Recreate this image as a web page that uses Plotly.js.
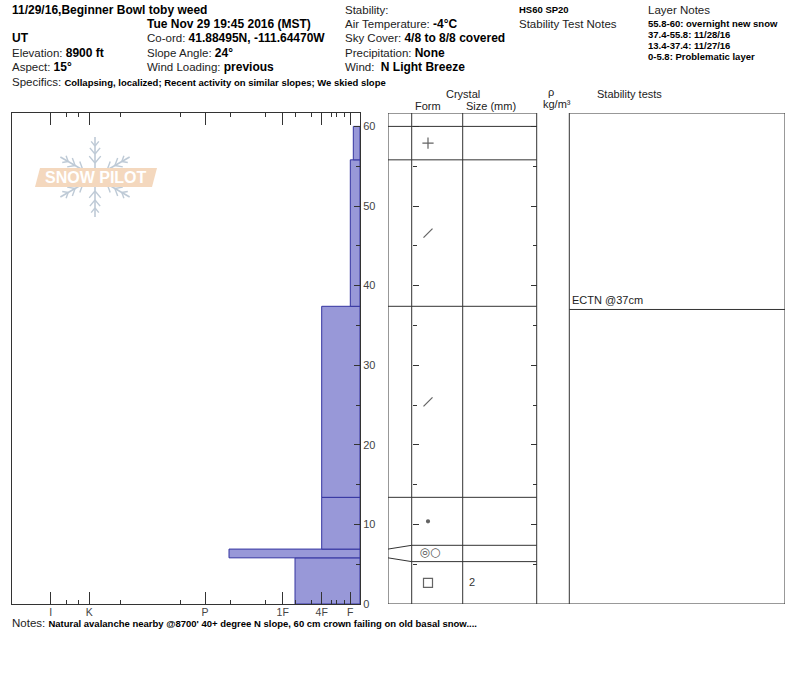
<!DOCTYPE html>
<html><head><meta charset="utf-8">
<script src="https://cdn.plot.ly/plotly-3.0.1.min.js"></script>
<style>html,body{margin:0;padding:0;background:#fff}</style>
</head><body><div id="chart" style="width:800px;height:676px"></div>
<script>
// ---------------- data ----------------
const hardnessLabels = ['I', 'K', 'P', '1F', '4F', 'F'];
const hardnessPos = [309.3, 270.7, 155, 77.3, 38.3, 9.7];
const hardnessMinor = [293.3, 281.7, 240, 180, 130, 95, 65, 48.3, 29, 23.3, 16];

const layerBottom = [0, 5.8, 6.9, 13.4, 37.4, 55.8];
const layerTop = [5.8, 6.9, 13.4, 37.4, 55.8, 60];
const layerHardness = [65, 131, 38.3, 38.3, 9.7, 6.7];
const layerForm = ['FC', 'MFcr', 'RG', 'DF', 'DF', 'PP'];
const layerSize = ['2', '', '', '', '', ''];

const layerNoteRanges = ['55.8-60', '37.4-55.8', '13.4-37.4', '0-5.8'];
const layerNoteTexts = ['overnight new snow', '11/28/16', '11/27/16', 'Problematic layer'];

const stabilityTests = ['ECTN @37cm'];
const stabilityDepths = [37];

// ---------------- geometry ----------------
const W = 800, H = 676;
const px = x => x / W, py = y => 1 - y / H;
const FONT = '"Liberation Sans", Arial, Helvetica, sans-serif';
const plotT = 113, plotB = 604;
const cmPx = 7.96;
const yMax = (plotB - plotT) / cmPx;
const colX = [388, 411.7, 462.7, 536.7, 569.3, 785];
const formX = 428, sizeX = 472;
const LINE = '#333';

// display positions in the crystal table (thin layers widened)
const minH = 2.05;
const n = layerBottom.length;
const dispB = layerBottom.slice(), dispT = layerTop.slice();
for (let i = 0; i < n; i++) {
  const b = layerBottom[i], t = layerTop[i];
  if (t - b < minH) {
    const m = (b + t) / 2;
    dispB[i] = m - minH / 2; dispT[i] = m + minH / 2;
    if (i > 0) dispT[i - 1] = dispB[i];
    if (i < n - 1) dispB[i + 1] = dispT[i];
  }
}
const mids = layerBottom.map((b, i) => (b + layerTop[i]) / 2);
const thick = layerBottom.map((b, i) => layerTop[i] - b);
const dispMids = dispB.map((b, i) => (b + dispT[i]) / 2);

const symbolFor = { PP: 'cross-thin', DF: 'line-ne', RG: 'circle', FC: 'square-open' };
const sizeFor = { PP: 8, DF: 9, RG: 3, FC: 9 };
const mIdx = layerForm.map((f, i) => i).filter(i => symbolFor[layerForm[i]]);
const tIdx = layerForm.map((f, i) => i).filter(i => !symbolFor[layerForm[i]]);

const traces = [
  { type: 'bar', orientation: 'h', x: layerHardness, y: mids, width: thick,
    marker: { color: 'rgb(152,152,216)', line: { color: 'rgb(52,52,160)', width: 1 } },
    hoverinfo: 'skip', xaxis: 'x', yaxis: 'y' },
  { type: 'scatter', mode: 'markers', xaxis: 'x2', yaxis: 'y',
    x: mIdx.map(() => formX), y: mIdx.map(i => dispMids[i]),
    marker: { symbol: mIdx.map(i => symbolFor[layerForm[i]]), size: mIdx.map(i => sizeFor[layerForm[i]]),
      color: '#222', line: { color: '#222', width: 1.2 } }, hoverinfo: 'skip' },
  { type: 'scatter', mode: 'text', xaxis: 'x2', yaxis: 'y',
    x: tIdx.map(() => formX + 2), y: tIdx.map(i => dispMids[i]),
    text: tIdx.map(() => '◎○'), textfont: { family: 'DejaVu Sans', size: 12, color: '#555' }, hoverinfo: 'skip' },
  { type: 'scatter', mode: 'text', xaxis: 'x2', yaxis: 'y',
    x: layerSize.map(() => sizeX), y: dispMids, text: layerSize,
    textfont: { family: FONT, size: 11, color: '#333' }, hoverinfo: 'skip' },
  { type: 'scatter', mode: 'markers', x: [null], y: [null], xaxis: 'x', yaxis: 'y3', hoverinfo: 'skip' },
  { type: 'scatter', mode: 'markers', x: [null], y: [null], xaxis: 'x', yaxis: 'y4', hoverinfo: 'skip' }
];

// ---------------- shapes ----------------
const shapes = [];
// watermark snowflake (decoration)
const cx = 95, cy = 177, R = 40, FLAKE = 'rgb(190,202,214)';
[90, 30, 150, 210, 270, 330].forEach(a => {
  const r = a * Math.PI / 180;
  const ux = Math.cos(r), uy = -Math.sin(r);
  shapes.push({ type: 'line', xref: 'paper', yref: 'paper', layer: 'below',
    x0: px(cx), y0: py(cy), x1: px(cx + R * ux), y1: py(cy + R * uy), line: { color: FLAKE, width: 1.6 } });
  [[14, 9], [23, 8], [31, 6]].forEach(([d, l]) => {
    [-40, 40].forEach(s => {
      const rr = (a + s) * Math.PI / 180;
      const bx = cx + d * ux, by = cy + d * uy;
      shapes.push({ type: 'line', xref: 'paper', yref: 'paper', layer: 'below',
        x0: px(bx), y0: py(by), x1: px(bx + l * Math.cos(rr)), y1: py(by - l * Math.sin(rr)), line: { color: FLAKE, width: 1.4 } });
    });
  });
});
// watermark band
shapes.push({ type: 'path', xref: 'paper', yref: 'paper', layer: 'below',
  path: `M ${px(40)},${py(168)} L ${px(157)},${py(168)} L ${px(152)},${py(187)} L ${px(35)},${py(187)} Z`,
  fillcolor: 'rgb(244,216,190)', line: { width: 0 } });
// vertical table lines
colX.forEach(x => shapes.push({ type: 'line', xref: 'x2', yref: 'y', x0: x, x1: x, y0: 0, y1: yMax, line: { color: LINE, width: 1 } }));
// top & bottom
shapes.push({ type: 'line', xref: 'x2', yref: 'y', x0: colX[0], x1: colX[3], y0: yMax, y1: yMax, line: { color: LINE, width: 1 } });
shapes.push({ type: 'line', xref: 'x2', yref: 'y', x0: colX[4], x1: colX[5], y0: yMax, y1: yMax, line: { color: LINE, width: 1 } });
shapes.push({ type: 'line', xref: 'x2', yref: 'y', x0: colX[0], x1: colX[5], y0: 0, y1: 0, line: { color: LINE, width: 1 } });
// layer boundaries
for (let i = 0; i < n; i++) {
  const b = layerTop[i], d = dispT[i];
  shapes.push({ type: 'path', xref: 'x2', yref: 'y',
    path: `M ${colX[0]},${b} L ${colX[1]},${d} L ${colX[3]},${d}`, line: { color: LINE, width: 1 } });
}
// stability test lines
stabilityDepths.forEach(d => shapes.push({ type: 'line', xref: 'x2', yref: 'y', x0: colX[4], x1: colX[5], y0: d, y1: d, line: { color: LINE, width: 1 } }));

// ---------------- annotations ----------------
const annotations = [];
function ann(x, y, text, size, extra) {
  annotations.push(Object.assign({ xref: 'paper', yref: 'paper', x: px(x - 2), y: py(y), text: text, showarrow: false,
    xanchor: 'left', yanchor: 'middle', font: { family: FONT, size: size || 11.5, color: '#222' } }, extra || {}));
}
const B = s => '<b style="color:#000;font-size:12px">' + s + '</b>';
const Bs = (s, fs) => '<b style="color:#000;font-size:' + fs + 'px">' + s + '</b>';
ann(12, 10, B('11/29/16,Beginner Bowl toby weed'));
ann(147, 24, B('Tue Nov 29 19:45 2016 (MST)'));
ann(12, 38, B('UT'));
ann(12, 53, 'Elevation: ' + B('8900 ft'));
ann(12, 67, 'Aspect: ' + B('15°'));
ann(12, 82, 'Specifics: ' + Bs('Collapsing, localized; Recent activity on similar slopes; We skied slope', 9.5));
ann(147, 38, 'Co-ord: ' + B('41.88495N, -111.64470W'));
ann(147, 53, 'Slope Angle: ' + B('24°'));
ann(147, 67, 'Wind Loading: ' + B('previous'));
ann(345, 10, 'Stability:');
ann(345, 24, 'Air Temperature: ' + B('-4°C'));
ann(345, 38, 'Sky Cover: ' + B('4/8 to 8/8 covered'));
ann(345, 53, 'Precipitation: ' + B('None'));
ann(345, 67, 'Wind:  ' + B('N Light Breeze'));
ann(519, 10, Bs('HS60 SP20', 9.5));
ann(519, 24, 'Stability Test Notes');
ann(648, 10, 'Layer Notes');
layerNoteRanges.forEach((r, i) => ann(648, 24 + i * 10.7, Bs(r + ': ' + layerNoteTexts[i], 9.5)));
ann(12, 623, 'Notes: ' + Bs("Natural avalanche nearby @8700' 40+ degree N slope, 60 cm crown failing on old basal snow....", 9.5));
// table headers
ann(465, 94, 'Crystal', 11, { xanchor: 'center' });
ann(430, 106, 'Form', 11, { xanchor: 'center' });
ann(493, 106, 'Size (mm)', 11, { xanchor: 'center' });
ann(553, 92, 'ρ', 11, { xanchor: 'center' });
ann(559, 104, 'kg/m³', 11, { xanchor: 'center' });
ann(631, 94, 'Stability tests', 11, { xanchor: 'center' });
// stability tests
stabilityTests.forEach((t, i) => annotations.push({ xref: 'x2', yref: 'y', x: colX[4] + 1, y: stabilityDepths[i], text: t,
  showarrow: false, xanchor: 'left', yanchor: 'bottom', yshift: 1, font: { family: FONT, size: 11, color: '#222' } }));
// watermark text
ann(98, 177.5, '<b>SNOW PILOT</b>', 16, { xanchor: 'center', font: { family: FONT, size: 16, color: '#ffffff' } });

const layout = {
  width: W, height: H, autosize: false, margin: { l: 0, r: 0, t: 0, b: 0 },
  paper_bgcolor: '#ffffff', plot_bgcolor: 'rgba(0,0,0,0)', showlegend: false,
  font: { family: FONT, size: 11, color: '#333' },
  xaxis: { domain: [px(12), px(360)], range: [348, 0], tickmode: 'array', tickvals: hardnessPos, ticktext: hardnessLabels,
    ticks: 'inside', ticklen: 12, tickcolor: LINE, tickwidth: 1, showline: true, linecolor: LINE, linewidth: 1, mirror: 'ticks',
    showgrid: false, zeroline: false, anchor: 'y', fixedrange: true, tickfont: { size: 10.5, color: '#444' },
    ticklabelstandoff: -2,
    minor: { tickmode: 'array', tickvals: hardnessMinor, ticks: 'inside', ticklen: 4, tickcolor: LINE, showgrid: false } },
  yaxis: { domain: [py(plotB), py(plotT)], range: [0, yMax], side: 'right', anchor: 'x', ticks: 'inside', ticklen: 6,
    tickcolor: LINE, tick0: 0, dtick: 10, showline: true, linecolor: LINE, linewidth: 1, mirror: true, showgrid: false,
    zeroline: false, fixedrange: true, tickfont: { size: 11, color: '#444' },
    minor: { dtick: 5, ticks: 'inside', ticklen: 4, tickcolor: LINE, showgrid: false } },
  xaxis2: { domain: [px(colX[0]), px(colX[5])], range: [colX[0], colX[5]], visible: false, anchor: 'y', fixedrange: true },
  yaxis3: { overlaying: 'y', anchor: 'free', position: px(colX[1]), side: 'left', range: [0, yMax], ticks: 'inside',
    ticklen: 6, tickcolor: LINE, tick0: 0, dtick: 10, showticklabels: false, showline: false, showgrid: false, zeroline: false,
    minor: { dtick: 5, ticks: 'inside', ticklen: 4, tickcolor: LINE, showgrid: false } },
  yaxis4: { overlaying: 'y', anchor: 'free', position: px(colX[3]), side: 'right', range: [0, yMax], ticks: 'inside',
    ticklen: 6, tickcolor: LINE, tick0: 0, dtick: 10, showticklabels: false, showline: false, showgrid: false, zeroline: false,
    minor: { dtick: 5, ticks: 'inside', ticklen: 4, tickcolor: LINE, showgrid: false } },
  shapes: shapes, annotations: annotations
};
Plotly.newPlot('chart', traces, layout, { staticPlot: true, displayModeBar: false });
</script></body></html>
